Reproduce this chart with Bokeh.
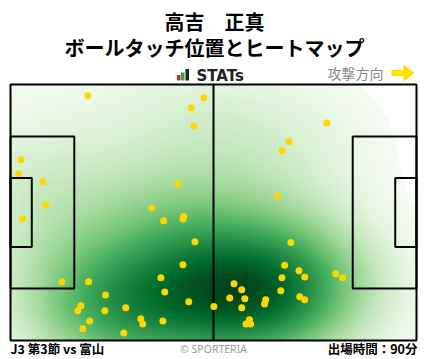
import numpy as np
from bokeh.plotting import figure
from bokeh.models import Range1d, Label, LinearColorMapper
from bokeh.palettes import Greens256
from bokeh.embed import file_html
from bokeh.resources import INLINE

# ---------------- data ----------------
title_name = "高吉　正真"
title_sub = "ボールタッチ位置とヒートマップ"
brand = "STATs"
direction_label = "攻撃方向"
match_label = "J3 第3節 vs 富山"
copyright_label = "© SPORTERIA"
minutes_label = "出場時間：90分"

pitch_length = 105.0
pitch_width = 68.0

touch_x = [20.0, 50.0, 46.8, 47.4, 81.8, 72.0, 70.2, 2.7, 2.1, 8.4,
           43.3, 69.1, 9.1, 36.5, 44.8, 44.6, 39.6, 3.1, 47.7, 72.5,
           44.6, 70.9, 74.6, 76.1, 70.2, 84.1, 85.9, 13.3, 20.2, 38.9,
           39.9, 24.6, 46.1, 52.6, 18.2, 17.4, 24.4, 29.8, 20.5, 18.7,
           33.7, 34.2, 39.4, 29.3, 57.8, 59.8, 56.7, 60.6, 59.8, 66.0,
           65.7, 74.8, 76.1, 69.9, 61.8, 60.9, 62.1]
touch_y = [65.0, 64.5, 61.8, 57.0, 57.8, 52.8, 50.4, 48.0, 44.3, 42.2,
           41.6, 38.4, 36.0, 35.2, 33.0, 32.3, 31.8, 32.3, 26.2, 26.0,
           20.1, 20.0, 18.5, 16.9, 16.7, 17.7, 16.7, 15.6, 15.6, 16.7,
           12.9, 12.1, 10.3, 9.0, 9.2, 7.9, 7.9, 8.7, 5.2, 3.1,
           5.8, 4.4, 5.2, 2.0, 15.1, 13.5, 11.3, 11.1, 8.7, 10.8,
           9.7, 11.6, 10.8, 13.2, 5.5, 4.4, 4.4]

# ---------------- layout helpers (page pixels -> data) ----------------
W, H = 428, 359
SX = pitch_length / 406.0
SY = pitch_width / 256.0


def X(px):
    return (px - 10) * SX


def Y(py):
    return (340 - py) * SY


p = figure(width=W, height=H, output_backend="svg", toolbar_location=None,
           x_range=Range1d(X(0), X(W)), y_range=Range1d(Y(H), Y(0)),
           min_border=0, min_border_left=0, min_border_right=0,
           min_border_top=0, min_border_bottom=0)
p.axis.visible = False
p.grid.visible = False
p.outline_line_color = None
p.background_fill_color = "white"
p.border_fill_color = "white"

# ---------------- heatmap (KDE of touches) ----------------
pts = np.vstack([np.array(touch_x), np.array(touch_y)])
n = pts.shape[1]
factor = 1.45 * n ** (-1.0 / 6.0)
cov = np.cov(pts) * factor ** 2
inv = np.linalg.inv(cov)
gx = (np.arange(406) + 0.5) * pitch_length / 406
gy = (np.arange(256) + 0.5) * pitch_width / 256
GX, GY = np.meshgrid(gx, gy)
dens = np.zeros_like(GX)
for i in range(n):
    dx = GX - pts[0, i]
    dy = GY - pts[1, i]
    q = inv[0, 0] * dx * dx + 2 * inv[0, 1] * dx * dy + inv[1, 1] * dy * dy
    dens += np.exp(-0.5 * q)
dens = dens / dens.max()
dens = dens.astype(np.float32)

mapper = LinearColorMapper(palette=list(Greens256[::-1])[4:], low=0.06, high=1.0,
                           low_color="white")
p.image(image=[dens], x=0, y=0, dw=pitch_length, dh=pitch_width,
        color_mapper=mapper)

# ---------------- pitch lines ----------------
L, Wd = pitch_length, pitch_width
pb_depth, pb_half = 16.5, 20.16
ga_depth, ga_half = 5.5, 9.16
cy = Wd / 2
p.quad(left=[0, 0, 0, L - pb_depth, L - ga_depth],
       right=[L, pb_depth, ga_depth, L, L],
       bottom=[0, cy - pb_half, cy - ga_half, cy - pb_half, cy - ga_half],
       top=[Wd, cy + pb_half, cy + ga_half, cy + pb_half, cy + ga_half],
       fill_color=None, line_color="black", line_width=2)
p.segment(x0=[L / 2], y0=[0], x1=[L / 2], y1=[Wd], line_color="black", line_width=2)

# ---------------- touches ----------------
p.scatter(touch_x, touch_y, size=7, fill_color="#FFD700", line_color=None)

# ---------------- texts ----------------
JP = "Noto Sans CJK JP"


def lab(text, px, py, size, color="black", align="center", style="bold", font=JP):
    p.add_layout(Label(x=px, y=H - py, x_units="screen", y_units="screen",
                       text=text, text_font=font, text_font_size=f"{size}px",
                       text_font_style=style, text_color=color,
                       text_align=align, text_baseline="middle"))


lab(title_name, 214, 20.5, 20)
lab(title_sub, 214, 47, 20)
lab(brand, 196, 75, 15, color="#222222", align="left", font="DejaVu Sans")
lab(direction_label, 383, 72, 14, color="#8a8a8a", align="right", style="normal")
lab(match_label, 10, 348, 12.5, align="left")
lab(copyright_label, 213, 348, 10.5, color="#999999", style="normal", font="Noto Sans")
lab(minutes_label, 417, 348, 12.5, align="right")

# STATs icon bars
p.quad(left=[X(176.5), X(180.5), X(185.0)], right=[X(180.0), X(184.0), X(188.5)],
       bottom=[Y(80), Y(80), Y(80)], top=[Y(74.5), Y(72), Y(68.5)],
       fill_color=["#d7282f", "#2aa84a", "#222222"], line_color=None)

# direction arrow
ax = [X(391), X(403), X(403), X(414), X(403), X(403), X(391)]
ay = [Y(69.5), Y(69.5), Y(64), Y(72.5), Y(81), Y(75.5), Y(75.5)]
p.patch(ax, ay, fill_color="#FFE000", line_color=None)

open("out.html", "w").write(file_html(p, INLINE))
